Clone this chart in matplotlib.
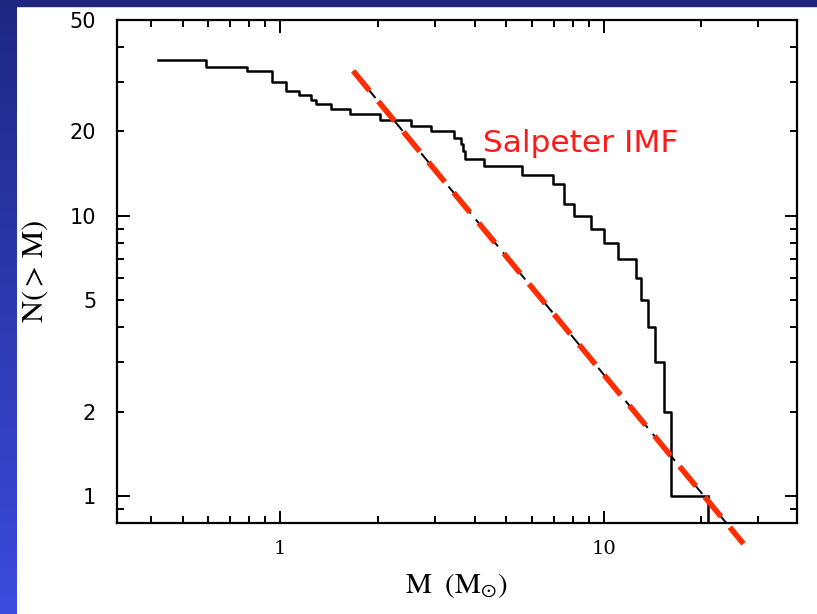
import matplotlib
matplotlib.use('Agg')
import matplotlib.pyplot as plt
from matplotlib.ticker import LogLocator, FuncFormatter, NullFormatter
from matplotlib.patches import Rectangle
import numpy as np

plt.rcParams['mathtext.fontset'] = 'stix'

# cumulative counts: N(>M) changes at each mass below
m_steps = [0.419, 0.588, 0.791, 0.945, 1.043, 1.142, 1.246, 1.291, 1.436, 1.648,
           2.04, 2.54, 2.92, 3.45, 3.62, 3.66, 3.73, 4.27, 5.57, 6.95,
           7.54, 8.06, 9.12, 10.02, 11.07, 12.55, 13.06, 13.64, 14.4, 15.35,
           16.1, 21.0]
n_steps = [36, 34, 33, 30, 28, 27, 26, 25, 24, 23,
           22, 21, 20, 19, 18, 17, 16, 15, 14, 13,
           11, 10, 9, 8, 7, 6, 5, 4, 3, 2,
           1, 0]

# power-law line drawn over it
imf_m = [1.68, 27.0]
imf_norm = 68.0
imf_slope = -1.4

ylabels_shown = [1, 2, 5, 10, 20, 50]

fig = plt.figure(figsize=(8.17, 6.14), dpi=100)
fig.patch.set_facecolor('white')

# slide background strips
bg = fig.add_axes([0, 0, 17 / 817, 1])
grad = np.linspace(0, 1, 256).reshape(-1, 1)
cmap = matplotlib.colors.LinearSegmentedColormap.from_list('slide', ['#1f2883', '#3b4bdc'])
bg.imshow(grad, aspect='auto', cmap=cmap, extent=[0, 1, 0, 1], origin='upper')
bg.axis('off')
fig.patches.append(Rectangle((0, 1 - 6 / 614), 1, 6 / 614, transform=fig.transFigure,
                             color='#1f2680', zorder=0))

ax = fig.add_axes([117 / 817, 1 - 523 / 614, (797 - 117) / 817, (523 - 20) / 614])
ax.set_xscale('log')
ax.set_yscale('log')
ax.set_xlim(0.313, 39.5)
ax.set_ylim(0.8, 50)

y_line = n_steps[:-1] + [n_steps[-2]]
ax.step(m_steps, y_line, where='post', color='black', lw=1.8)
ax.vlines(m_steps[-1], 0.8, n_steps[-2], color='black', lw=1.8)

imf_n = [imf_norm * m ** imf_slope for m in imf_m]
ax.plot(imf_m, imf_n, color='black', lw=1.4, dashes=(7, 4), zorder=3)
ax.plot(imf_m, imf_n, color='#ff2d00', lw=4.0, dashes=(4.6, 2.5), zorder=4,
        clip_on=False, dash_capstyle='butt')

ax.text(483 / 817, 1 - 143 / 614, 'Salpeter IMF', transform=fig.transFigure,
        color='#ff1a1a', fontsize=22.5, va='center', ha='left', family='DejaVu Sans')

for s in ax.spines.values():
    s.set_linewidth(1.6)

ax.xaxis.set_major_locator(LogLocator(base=10))
ax.xaxis.set_minor_locator(LogLocator(base=10, subs=np.arange(2, 10)))
ax.xaxis.set_minor_formatter(NullFormatter())
ax.xaxis.set_major_formatter(FuncFormatter(lambda v, p: '%g' % v))

ax.yaxis.set_major_locator(LogLocator(base=10))
ax.yaxis.set_minor_locator(LogLocator(base=10, subs=np.arange(2, 10)))


def ylab(v, p):
    for t in ylabels_shown:
        if np.isclose(v, t):
            return '%g' % t
    return ''


ax.yaxis.set_major_formatter(FuncFormatter(ylab))
ax.yaxis.set_minor_formatter(FuncFormatter(ylab))

ax.tick_params(which='both', direction='in', top=True, right=True, width=1.4, color='black')
ax.tick_params(which='major', length=9)
ax.tick_params(which='minor', length=5)
ax.tick_params(axis='x', which='both', pad=12, labelsize=14, labelfontfamily='DejaVu Serif')
ax.tick_params(axis='y', which='both', pad=15, labelsize=15, labelfontfamily='DejaVu Sans')

ax.set_xlabel(r'$\mathrm{M\ \ (M_{\odot})}$', fontsize=21, labelpad=10)
ax.set_ylabel(r'$\mathrm{N(>\,M)}$', fontsize=22, labelpad=14)

fig.savefig('out.png', dpi=100)
